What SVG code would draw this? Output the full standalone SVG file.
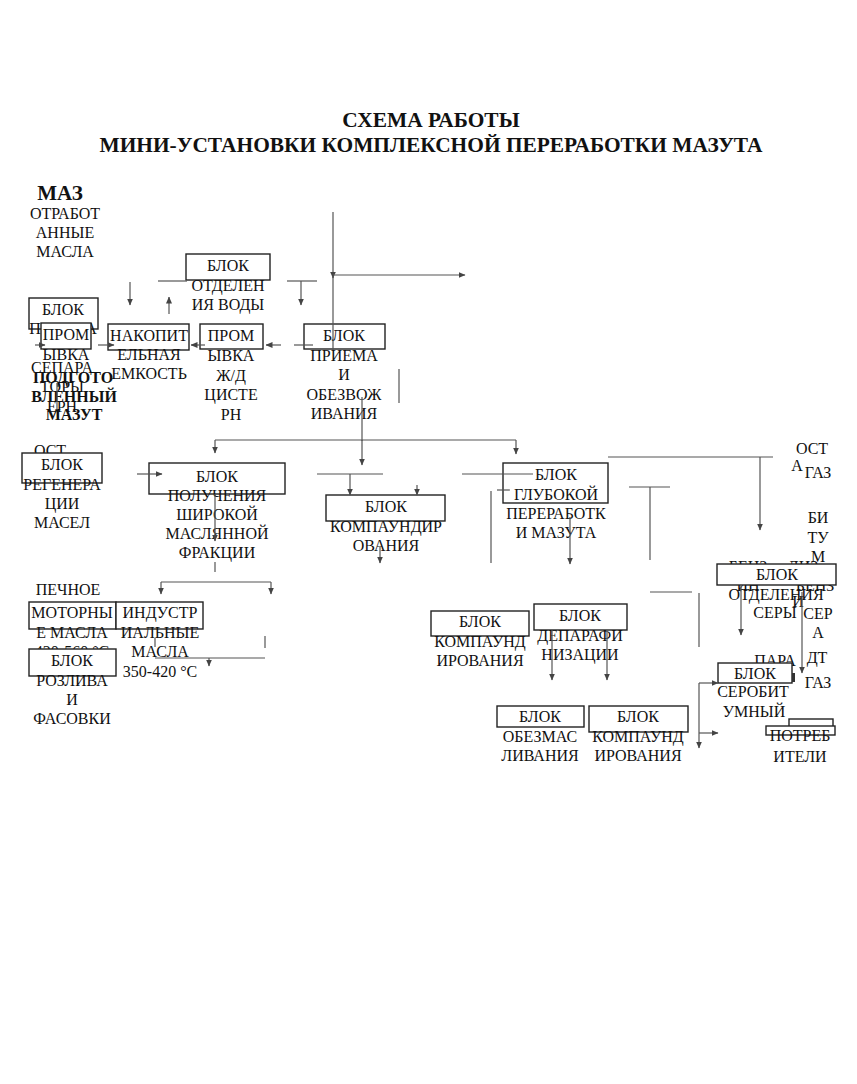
<svg xmlns="http://www.w3.org/2000/svg" width="857" height="1084" viewBox="0 0 857 1084">
<defs>
<marker id="ah" markerWidth="7" markerHeight="6" refX="6.5" refY="3" orient="auto" markerUnits="userSpaceOnUse">
<path d="M0,0 L7,3 L0,6 Z" fill="#444"/>
</marker>
<style>
.t{font-family:"Liberation Serif","Times New Roman",serif;font-size:16px;text-anchor:middle;fill:#111}
.b{font-family:"Liberation Serif","Times New Roman",serif;font-weight:bold;text-anchor:middle;fill:#111}
.box{fill:#fff;stroke:#222;stroke-width:1.4}
.c line,.c path{stroke:#555;stroke-width:1.2;fill:none}
.a{marker-end:url(#ah)}
</style>
</defs>
<rect width="857" height="1084" fill="#fff"/>
<g id="title">
<text class="b" x="431" y="127" font-size="21.4">СХЕМА РАБОТЫ</text>
<text class="b" x="431" y="152" font-size="21.4">МИНИ-УСТАНОВКИ КОМПЛЕКСНОЙ ПЕРЕРАБОТКИ МАЗУТА</text>
</g>
<g id="n-maz"><text class="b" x="60" y="200" font-size="21">МАЗ</text></g>
<g id="n-otrab">
<text class="t" x="65" y="219">ОТРАБОТ</text><text class="t" x="65" y="238">АННЫЕ</text><text class="t" x="65" y="257">МАСЛА</text>
</g>
<g id="n-water">
<rect class="box" x="186" y="254" width="84" height="26"/>
<text class="t" x="228" y="271">БЛОК</text><text class="t" x="228" y="291">ОТДЕЛЕН</text><text class="t" x="228" y="310">ИЯ ВОДЫ</text>
</g>
<g id="n-priem-left">
<rect class="box" x="29" y="298" width="69" height="31"/>
<text class="t" x="63" y="315">БЛОК</text><text class="t" x="63" y="334">ПРИЕМА</text>
</g>
<g id="n-separ">
<text class="t" x="62" y="373">СЕПАРА</text><text class="t" x="62" y="392">ТОРЫ</text><text class="t" x="62" y="412">ЕРН</text>
</g>
<g id="n-prom-left">
<rect class="box" x="41" y="323" width="50" height="26"/>
<text class="t" x="66" y="340">ПРОМ</text><text class="t" x="66" y="360">ЫВКА</text>
</g>
<g id="n-podgot">
<text class="b" x="73" y="383" font-size="16">ПОДГОТО</text><text class="b" x="74" y="402" font-size="16">ВЛЕННЫЙ</text><text class="b" x="74" y="420" font-size="16">МАЗУТ</text>
</g>
<g id="n-nakop">
<rect class="box" x="108" y="324" width="81" height="26"/>
<text class="t" x="149" y="341">НАКОПИТ</text><text class="t" x="149" y="360">ЕЛЬНАЯ</text><text class="t" x="149" y="379">ЕМКОСТЬ</text>
</g>
<g id="n-prom-zhd">
<rect class="box" x="200" y="324" width="63" height="25"/>
<text class="t" x="231" y="341">ПРОМ</text><text class="t" x="231" y="361">ЫВКА</text><text class="t" x="231" y="381">Ж/Д</text><text class="t" x="231" y="400">ЦИСТЕ</text><text class="t" x="231" y="420">РН</text>
</g>
<g id="n-priem-obez">
<rect class="box" x="304" y="324" width="81" height="25"/>
<text class="t" x="344" y="341">БЛОК</text><text class="t" x="344" y="361">ПРИЕМА</text><text class="t" x="344" y="380">И</text><text class="t" x="344" y="400">ОБЕЗВОЖ</text><text class="t" x="344" y="419">ИВАНИЯ</text>
</g>
<g id="n-ost-left"><text class="t" x="50" y="456">ОСТ</text></g>
<g id="n-regen">
<rect class="box" x="22" y="453" width="80" height="30"/>
<text class="t" x="62" y="470">БЛОК</text><text class="t" x="62" y="490">РЕГЕНЕРА</text><text class="t" x="62" y="509">ЦИИ</text><text class="t" x="62" y="528">МАСЕЛ</text>
</g>
<g id="n-poluch">
<rect class="box" x="149" y="463" width="136" height="31"/>
<text class="t" x="217" y="482">БЛОК</text><text class="t" x="217" y="501">ПОЛУЧЕНИЯ</text><text class="t" x="217" y="520">ШИРОКОЙ</text><text class="t" x="217" y="539">МАСЛЯННОЙ</text><text class="t" x="217" y="558">ФРАКЦИИ</text>
</g>
<g id="n-pechnoe"><text class="t" x="68" y="595">ПЕЧНОЕ</text></g>
<g id="n-motor">
<rect class="box" x="29" y="602" width="87" height="27"/>
<text class="t" x="72" y="618">МОТОРНЫ</text><text class="t" x="72" y="638">Е МАСЛА</text><text class="t" x="72" y="657">420-560 °С</text>
</g>
<g id="n-indust">
<rect class="box" x="116" y="602" width="87" height="27"/>
<text class="t" x="160" y="618">ИНДУСТР</text><text class="t" x="160" y="638">ИАЛЬНЫЕ</text><text class="t" x="160" y="657">МАСЛА</text><text class="t" x="160" y="677">350-420 °С</text>
</g>
<g id="n-rozliv">
<rect class="box" x="29" y="649" width="87" height="27"/>
<text class="t" x="72" y="666">БЛОК</text><text class="t" x="72" y="686">РОЗЛИВА</text><text class="t" x="72" y="705">И</text><text class="t" x="72" y="724">ФАСОВКИ</text>
</g>
<g id="n-kompaund1">
<rect class="box" x="326" y="495" width="119" height="26"/>
<text class="t" x="386" y="512">БЛОК</text><text class="t" x="386" y="532">КОМПАУНДИР</text><text class="t" x="386" y="551">ОВАНИЯ</text>
</g>
<g id="n-glub">
<rect class="box" x="503" y="463" width="105" height="40"/>
<text class="t" x="556" y="480">БЛОК</text><text class="t" x="556" y="500">ГЛУБОКОЙ</text><text class="t" x="556" y="519">ПЕРЕРАБОТК</text><text class="t" x="556" y="538">И МАЗУТА</text>
</g>
<g id="n-kompaund2">
<rect class="box" x="431" y="611" width="98" height="25"/>
<text class="t" x="480" y="627">БЛОК</text><text class="t" x="480" y="647">КОМПАУНД</text><text class="t" x="480" y="666">ИРОВАНИЯ</text>
</g>
<g id="n-deparaf">
<rect class="box" x="534" y="604" width="93" height="26"/>
<text class="t" x="580" y="621">БЛОК</text><text class="t" x="580" y="641">ДЕПАРАФИ</text><text class="t" x="580" y="660">НИЗАЦИИ</text>
</g>
<g id="n-obezmas">
<rect class="box" x="497" y="706" width="87" height="21"/>
<text class="t" x="540" y="722">БЛОК</text><text class="t" x="540" y="742">ОБЕЗМАС</text><text class="t" x="540" y="761">ЛИВАНИЯ</text>
</g>
<g id="n-kompaund3">
<rect class="box" x="589" y="706" width="99" height="26"/>
<text class="t" x="638" y="722">БЛОК</text><text class="t" x="638" y="742">КОМПАУНД</text><text class="t" x="638" y="761">ИРОВАНИЯ</text>
</g>
<g id="n-right-labels">
<text class="t" x="812" y="454">ОСТ</text><text class="t" x="797" y="471">А</text><text class="t" x="818" y="478">ГАЗ</text>
<text class="t" x="818" y="523">БИ</text><text class="t" x="818" y="543">ТУ</text><text class="t" x="818" y="562">М</text>
<text class="t" x="748" y="572">БЕНЗ</text><text class="t" x="803" y="572">ДИЗ</text>
<text class="t" x="748" y="591">ИН</text><text class="t" x="815" y="591">БЕНЗ</text>
<text class="t" x="818" y="619">СЕР</text><text class="t" x="818" y="638">А</text>
<text class="t" x="775" y="666">ПАРА</text><text class="t" x="817" y="663">ДТ</text><text class="t" x="818" y="688">ГАЗ</text>
</g>
<g id="n-sery">
<rect class="box" x="717" y="564" width="119" height="21"/>
<text class="t" x="777" y="580">БЛОК</text><text class="t" x="776" y="600">ОТДЕЛЕНИЯ</text><text class="t" x="775" y="618">СЕРЫ</text>
<text class="t" x="798" y="607">И</text>
</g>
<g id="n-serobit">
<rect class="box" x="718" y="663" width="74" height="20"/>
<rect x="792" y="673" width="3" height="9" fill="#333"/>
<text class="t" x="755" y="679">БЛОК</text><text class="t" x="753" y="697">СЕРОБИТ</text><text class="t" x="754" y="717">УМНЫЙ</text>
</g>
<g id="n-potreb">
<rect class="box" x="789" y="719" width="44" height="8"/>
<rect class="box" x="766" y="726" width="69" height="9"/>
<text class="t" x="800" y="741">ПОТРЕБ</text><text class="t" x="800" y="762">ИТЕЛИ</text>
</g>
<g id="connectors" class="c">
<line x1="158" y1="281" x2="187" y2="281"/>
<line x1="287" y1="281" x2="317" y2="281"/>
<line class="a" x1="301" y1="281" x2="301" y2="305"/>
<line class="a" x1="130" y1="282" x2="130" y2="305"/>
<line class="a" x1="169" y1="314" x2="169" y2="297"/>
<line class="a" x1="333" y1="212" x2="333" y2="278"/>
<line x1="333" y1="276" x2="333" y2="350"/>
<line class="a" x1="333" y1="275" x2="465" y2="275"/>
<line x1="294" y1="345" x2="313" y2="345"/>
<line class="a" x1="281" y1="345" x2="266" y2="345"/>
<line class="a" x1="205" y1="345" x2="191" y2="345"/>
<line class="a" x1="98" y1="345" x2="114" y2="345"/>
<line class="a" x1="35" y1="345" x2="45" y2="345"/>
<line x1="57" y1="383" x2="57" y2="410"/>
<line x1="399" y1="369" x2="399" y2="403"/>
<line x1="362" y1="397" x2="362" y2="441"/>
<line class="a" x1="362" y1="440" x2="362" y2="465"/>
<line x1="215" y1="440" x2="516" y2="440"/>
<line class="a" x1="215" y1="440" x2="215" y2="453"/>
<line class="a" x1="516" y1="440" x2="516" y2="454"/>
<line class="a" x1="137" y1="474" x2="162" y2="474"/>
<line class="a" x1="215" y1="494" x2="215" y2="541"/>
<line x1="215" y1="562" x2="215" y2="572"/>
<line x1="161" y1="582" x2="271" y2="582"/>
<line class="a" x1="161" y1="582" x2="161" y2="594"/>
<line class="a" x1="271" y1="582" x2="271" y2="594"/>
<line x1="155" y1="638" x2="155" y2="647"/>
<line x1="265" y1="636" x2="265" y2="648"/>
<line x1="155" y1="658" x2="265" y2="658"/>
<line class="a" x1="209" y1="658" x2="209" y2="666"/>
<line x1="317" y1="474" x2="383" y2="474"/>
<line class="a" x1="350" y1="474" x2="350" y2="495"/>
<line class="a" x1="417" y1="485" x2="417" y2="495"/>
<line class="a" x1="380" y1="547" x2="380" y2="563"/>
<line x1="462" y1="474" x2="533" y2="474"/>
<line x1="497" y1="490" x2="510" y2="490"/>
<line x1="491" y1="491" x2="491" y2="563"/>
<line class="a" x1="570" y1="517" x2="570" y2="564"/>
<line x1="608" y1="457" x2="773" y2="457"/>
<line class="a" x1="760" y1="457" x2="760" y2="530"/>
<line x1="629" y1="487" x2="670" y2="487"/>
<line x1="650" y1="487" x2="650" y2="560"/>
<line x1="650" y1="592" x2="692" y2="592"/>
<line x1="699" y1="593" x2="699" y2="647"/>
<line class="a" x1="741" y1="585" x2="741" y2="635"/>
<line class="a" x1="802" y1="592" x2="802" y2="673"/>
<line class="a" x1="699" y1="683" x2="699" y2="748"/>
<line class="a" x1="699" y1="683" x2="718" y2="683"/>
<line class="a" x1="699" y1="733" x2="718" y2="733"/>
<line class="a" x1="552" y1="630" x2="552" y2="680"/>
<line class="a" x1="607" y1="630" x2="607" y2="680"/>
</g>
</svg>
